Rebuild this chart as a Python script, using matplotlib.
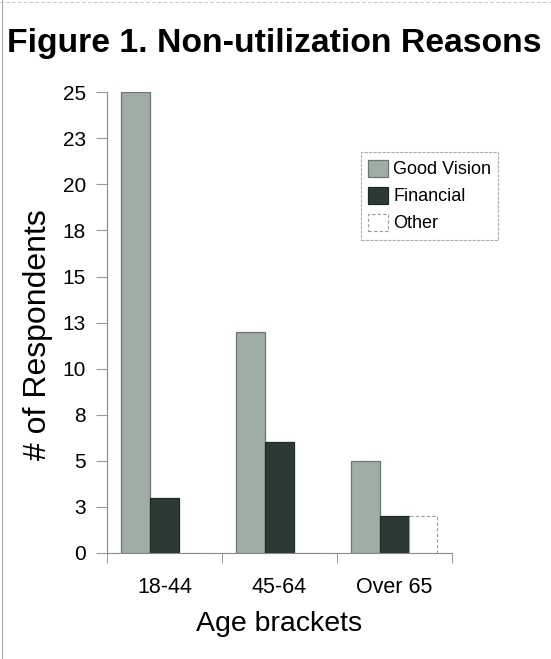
import matplotlib.pyplot as plt
import numpy as np

plt.rcParams['font.family'] = ['Liberation Sans', 'DejaVu Sans']

# data
age_brackets = ['18-44', '45-64', 'Over 65']
good_vision = [25, 12, 5]
financial = [3, 6, 2]
other = [0, 0, 2]

y_ticks = np.arange(0, 25.1, 2.5)
y_labels = ['0', '3', '5', '8', '10', '13', '15', '18', '20', '23', '25']


fig = plt.figure(figsize=(5.51, 6.59), dpi=100)
ax = fig.add_axes([0.194, 0.161, 0.626, 0.699])

x = np.arange(len(age_brackets))
w = 0.25
ax.bar(x - w, good_vision, w, color='#a0ada4', edgecolor='#6a766e',
       linewidth=0.9, label='Good Vision')
ax.bar(x, financial, w, color='#2b3b33', edgecolor='#1f2a24',
       linewidth=0.9, label='Financial')
ax.bar(x + w, other, w, color='white', edgecolor='#9a9a9a',
       linewidth=0.8, linestyle=(0, (3, 2)), label='Other')

ax.set_xlim(-0.5, 2.5)
ax.set_ylim(0, 25)
ax.set_yticks(y_ticks)
ax.set_yticklabels(y_labels, fontsize=15)
ax.set_xticks(x)
ax.set_xticklabels(age_brackets, fontsize=15.5)
ax.set_xticks([-0.5, 0.5, 1.5, 2.5], minor=True)
ax.tick_params(axis='x', which='major', length=0, pad=17)
ax.tick_params(axis='x', which='minor', length=7, color='#888888', direction='out')
ax.tick_params(axis='y', length=8, color='#999999', direction='out', pad=7)

for s in ['top', 'right']:
    ax.spines[s].set_visible(False)
for s in ['left', 'bottom']:
    ax.spines[s].set_color('#8a8a8a')
    ax.spines[s].set_linewidth(0.8)

ax.set_ylabel('# of Respondents', fontsize=23)
ax.yaxis.set_label_coords(-0.157, 0.473)
ax.set_xlabel('Age brackets', fontsize=20.5, labelpad=10)

leg = ax.legend(loc='upper right', bbox_to_anchor=(1.161, 0.889), fontsize=13,
                frameon=True, fancybox=False, handlelength=1.1,
                handleheight=1.1, handletextpad=0.3, borderpad=0.4,
                labelspacing=0.45)
leg.get_frame().set_edgecolor('#999999')
leg.get_frame().set_linewidth(0.8)
leg.get_frame().set_linestyle((0, (3, 1)))

fig.text(0.013, 0.934, 'Figure 1. Non-utilization Reasons', fontsize=24.3,
         fontweight='bold', ha='left', va='center')

# scan border lines
fig.add_artist(plt.Line2D([0.004, 0.004], [0.0, 1.0], color='#aaaaaa', lw=0.8))
fig.add_artist(plt.Line2D([0.0, 1.0], [0.997, 0.997], color='#bbbbbb', lw=0.6,
                          linestyle=(0, (4, 3))))

fig.savefig('out.png', dpi=100)
